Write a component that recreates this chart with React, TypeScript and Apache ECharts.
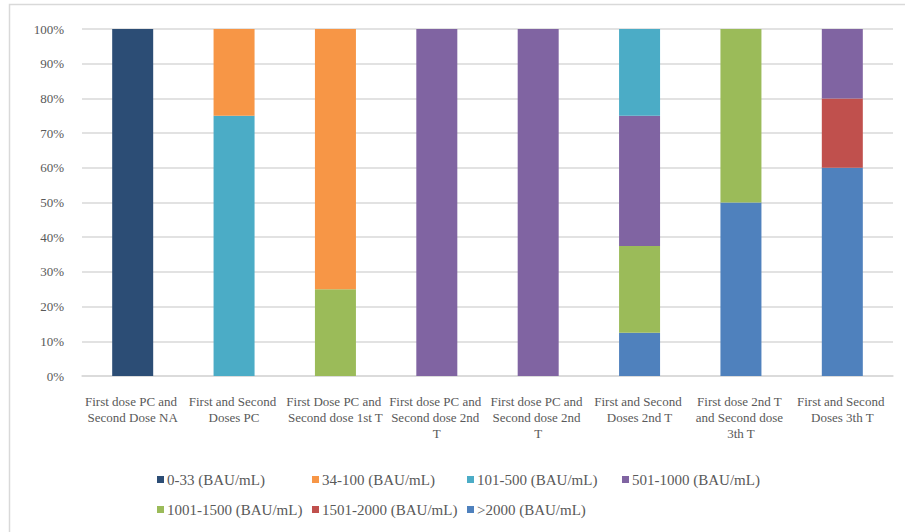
import React, { useEffect, useRef } from "react";
import * as echarts from "echarts";

const categories = [
  "First dose PC and Second Dose NA",
  "First and Second Doses PC",
  "First Dose PC and Second dose 1st T",
  "First dose PC and Second dose 2nd T",
  "First dose PC and Second dose 2nd T",
  "First and Second Doses 2nd T",
  "First dose 2nd T and Second dose 3th T",
  "First and Second Doses 3th T",
];

// percentages per category
const s0_33 = [100, 0, 0, 0, 0, 0, 0, 0];
const s34_100 = [0, 25, 75, 0, 0, 0, 0, 0];
const s101_500 = [0, 75, 0, 0, 0, 25, 0, 0];
const s501_1000 = [0, 0, 0, 100, 100, 37.5, 0, 20];
const s1001_1500 = [0, 0, 25, 0, 0, 25, 50, 0];
const s1501_2000 = [0, 0, 0, 0, 0, 0, 0, 20];
const sOver2000 = [0, 0, 0, 0, 0, 12.5, 50, 60];

const legendNames = [
  "0-33 (BAU/mL)",
  "34-100 (BAU/mL)",
  "101-500 (BAU/mL)",
  "501-1000 (BAU/mL)",
  "1001-1500 (BAU/mL)",
  "1501-2000 (BAU/mL)",
  ">2000 (BAU/mL)",
];

const yTicks = [0, 10, 20, 30, 40, 50, 60, 70, 80, 90, 100];

const colors: Record<string, string> = {
  "0-33 (BAU/mL)": "#2C4D75",
  "34-100 (BAU/mL)": "#F79646",
  "101-500 (BAU/mL)": "#4BACC6",
  "501-1000 (BAU/mL)": "#8064A2",
  "1001-1500 (BAU/mL)": "#9BBB59",
  "1501-2000 (BAU/mL)": "#C0504D",
  ">2000 (BAU/mL)": "#4F81BD",
};

// stacking order: bottom to top
const stackOrder: [string, number[]][] = [
  [">2000 (BAU/mL)", sOver2000],
  ["1501-2000 (BAU/mL)", s1501_2000],
  ["1001-1500 (BAU/mL)", s1001_1500],
  ["501-1000 (BAU/mL)", s501_1000],
  ["101-500 (BAU/mL)", s101_500],
  ["34-100 (BAU/mL)", s34_100],
  ["0-33 (BAU/mL)", s0_33],
];

const FONT = "Liberation Serif";
const TXT = "#595959";

export default function App() {
  const ref = useRef<HTMLDivElement>(null);

  useEffect(() => {
    document.body.style.margin = "0";
    const chart = echarts.init(ref.current!, null, { renderer: "svg" });

    const colLeft = [157, 312, 467, 622];
    const legends = legendNames.map((name, i) => ({
      data: [name],
      left: colLeft[i % 4],
      top: i < 4 ? 472 : 502,
      orient: "horizontal",
      icon: "rect",
      itemWidth: 7,
      itemHeight: 7,
      padding: 0,
      selectedMode: false,
      textStyle: { fontFamily: FONT, fontSize: 15, color: TXT, padding: [0, 0, 0, -2] },
    }));

    chart.setOption({
      animation: false,
      backgroundColor: "#ffffff",
      textStyle: { fontFamily: FONT },
      graphic: [
        {
          type: "rect",
          shape: { x: 9.5, y: 4.5, width: 1000, height: 1000 },
          style: { fill: "none", stroke: "#D9D9D9", lineWidth: 1.5 },
          silent: true,
          z: -10,
        },
      ],
      legend: legends,
      grid: { left: 82, width: 811, top: 29, height: 347, containLabel: false },
      xAxis: {
        type: "category",
        data: categories,
        axisLine: { show: true, lineStyle: { color: "#D9D9D9", width: 1.5 } },
        axisTick: { show: false },
        axisLabel: {
          interval: 0,
          fontFamily: FONT,
          fontSize: 13,
          color: TXT,
          lineHeight: 16,
          margin: 17,
          width: 98.7,
          overflow: "break",
          align: "center",
        },
      },
      yAxis: {
        type: "value",
        min: yTicks[0],
        max: yTicks[yTicks.length - 1],
        interval: 10,
        axisLine: { show: false },
        axisTick: { show: false },
        splitLine: { lineStyle: { color: "#D9D9D9", width: 1.5 } },
        axisLabel: {
          formatter: "{value}%",
          fontFamily: FONT,
          fontSize: 13,
          color: TXT,
          margin: 18,
        },
      },
      series: stackOrder.map(([name, vals]) => ({
        name,
        type: "bar",
        stack: "total",
        data: vals,
        barWidth: 41,
        itemStyle: { color: colors[name] },
        emphasis: { disabled: true },
      })),
    });

    return () => chart.dispose();
  }, []);

  return (
    <div
      ref={ref}
      style={{ position: "absolute", left: 0, top: 0, width: 905, height: 532 }}
    />
  );
}
